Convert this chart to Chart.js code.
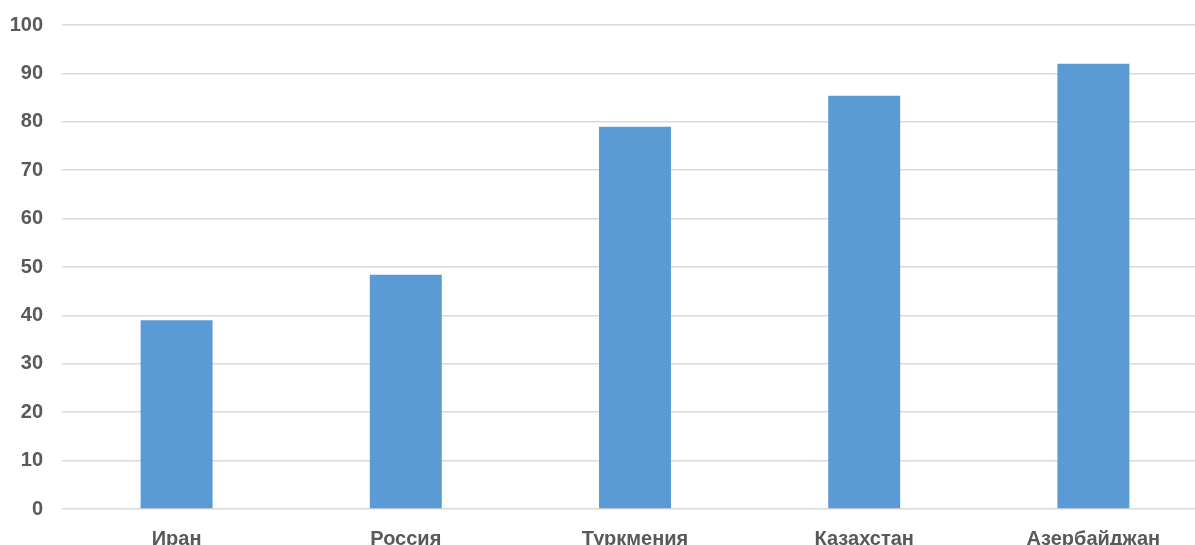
<!DOCTYPE html>
<html>
<head>
<meta charset="utf-8">
<script src="https://cdn.jsdelivr.net/npm/chart.js@4/dist/chart.umd.min.js"></script>
<style>
    html, body { margin: 0; padding: 0; background: #fff; overflow: hidden; }
    #wrap { position: relative; width: 1208px; height: 555px; }
</style>
</head>
<body>
<div id="wrap"><canvas id="chart"></canvas></div>
<script>
const countries = ['Иран', 'Россия', 'Туркмения', 'Казахстан', 'Азербайджан'];
const values = [39, 48.4, 79, 85.4, 92];
const yMin = 0;
const yMax = 100;
const yStep = 10;

const labelFont = { family: 'Arial, "Liberation Sans", sans-serif', size: 20, weight: 'bold' };
const labelColor = '#595959';
const gridColor = '#d9d9d9';

new Chart(document.getElementById('chart'), {
    type: 'bar',
    data: {
        labels: countries,
        datasets: [{
            data: values,
            backgroundColor: '#5b9bd5',
            borderWidth: 0,
            categoryPercentage: 1,
            barPercentage: 0.314,
        }],
    },
    options: {
        responsive: true,
        maintainAspectRatio: false,
        animation: false,
        layout: {
            padding: { top: 25, right: 0, bottom: 0, left: 0 },
        },
        scales: {
            x: {
                grid: { display: false },
                border: { display: false },
                ticks: {
                    color: labelColor,
                    font: labelFont,
                    padding: 10,
                    maxRotation: 0,
                },
                afterFit(scale) {
                    scale.height = 46;
                },
            },
            y: {
                min: yMin,
                max: yMax,
                grid: {
                    color: gridColor,
                    lineWidth: 1.5,
                    drawTicks: false,
                },
                border: { display: false },
                ticks: {
                    stepSize: yStep,
                    color: labelColor,
                    font: labelFont,
                    padding: 19,
                },
                afterFit(scale) {
                    scale.width = 62;
                    scale.paddingTop = 0;
                    scale.paddingBottom = 0;
                },
            },
        },
        plugins: {
            legend: { display: false },
            tooltip: { enabled: false },
        },
    },
});
</script>
</body>
</html>
